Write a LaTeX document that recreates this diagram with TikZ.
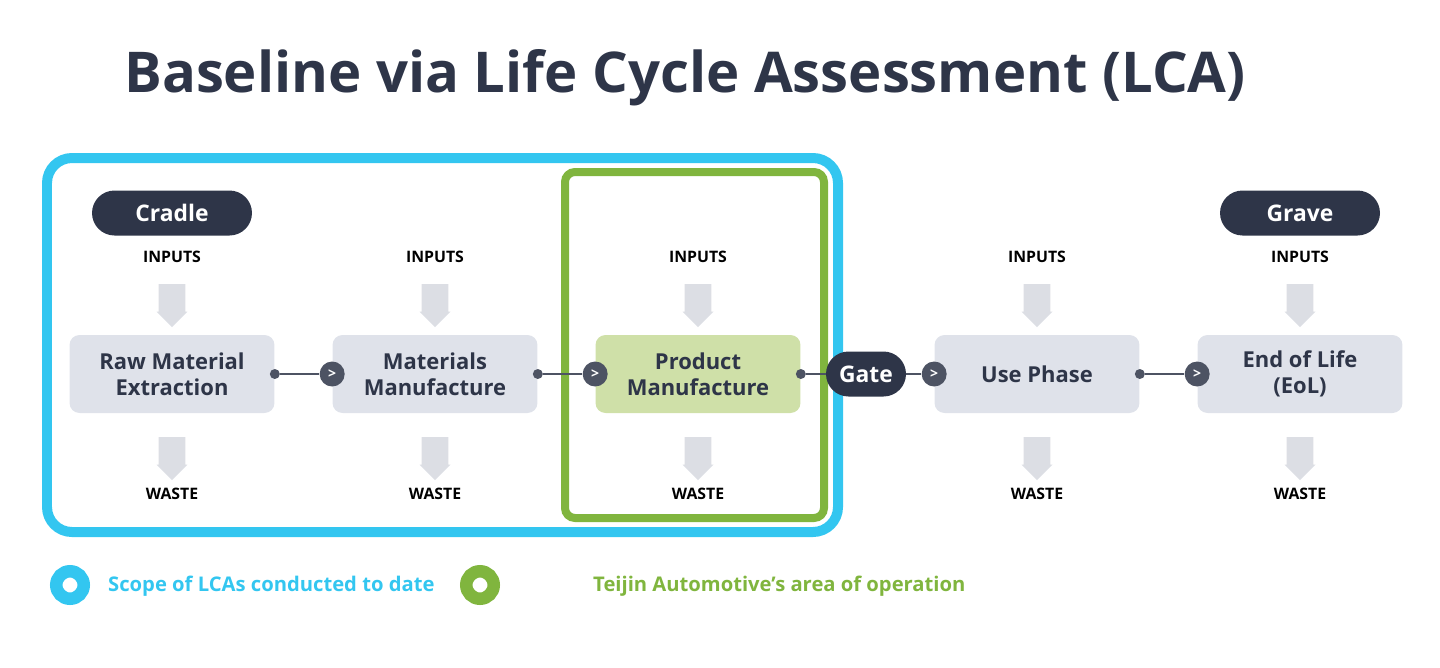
\documentclass[tikz,border=0pt]{standalone}
\usepackage{fontspec}
\setmainfont{Open Sans}
\usetikzlibrary{shapes.arrows,arrows.meta}
\definecolor{scopeblue}{HTML}{33C6F0}
\definecolor{teijingreen}{HTML}{80B53E}
\definecolor{stagegray}{HTML}{DFE2EA}
\definecolor{stagegreen}{HTML}{CFE0A8}
\definecolor{navy}{HTML}{2E3548}
\definecolor{flowgray}{HTML}{DCDEE4}
\tikzset{
  stage/.style={fill=stagegray, rounded corners=0.2cm, minimum width=4.1cm, minimum height=1.56cm,
    align=center, font=\bfseries\fontsize{12.5}{15}\selectfont, text=navy, inner sep=0pt},
  pill/.style={fill=navy, rounded corners=0.45cm, text=white, font=\bfseries\fontsize{13}{15}\selectfont,
    minimum height=0.9cm, inner sep=0pt},
  flow/.style={single arrow, fill=flowgray, rotate=-90, minimum height=0.86cm, minimum width=0.62cm,
    single arrow head extend=0.02cm, single arrow tip angle=90, inner sep=0.12cm},
  tag/.style={font=\bfseries\fontsize{9}{11}\selectfont, text=black},
  dot/.style={circle, fill=navy!85, inner sep=0pt, minimum size=0.2cm},
  go/.style={circle, fill=navy!85, inner sep=0pt, minimum size=0.5cm, text=white,
    font=\bfseries\fontsize{8}{8}\selectfont},
}
\begin{document}
\begin{tikzpicture}[x=0.02cm,y=-0.02cm]
\useasboundingbox (0,0) rectangle (1440,667);

% title
\node[font=\bfseries\fontsize{32}{38}\selectfont, text=navy] (title) at (685,78) {Baseline via Life Cycle Assessment (LCA)};

% scope frames
\draw[scopeblue, line width=0.2cm, rounded corners=0.5cm] (47,158) rectangle (838,532);
\draw[teijingreen, line width=0.16cm, rounded corners=0.2cm] (565,172) rectangle (824,518);

% stages
\node[stage] (raw) at (172,374) {Raw Material\\Extraction};
\node[stage] (mat) at (435,374) {Materials\\Manufacture};
\node[stage, fill=stagegreen] (prod) at (698,374) {Product\\Manufacture};
\node[stage] (use) at (1037,374) {Use Phase};
\node[stage] (eol) at (1300,374) {End of Life\\(EoL)};

\node[pill, minimum width=3.2cm] (cradle) at (172,213) {Cradle};
\node[pill, minimum width=3.2cm] (grave) at (1300,213) {Grave};
\node[pill, minimum width=1.6cm] (gate) at (866,374) {Gate};

% inputs and waste
\foreach \n/\x in {raw/172, mat/435, prod/698, use/1037, eol/1300}{
  \node[tag] (\n-in) at (\x,257) {INPUTS};
  \node[flow] (\n-ia) at (\x,299) {};
  \node[flow] (\n-wa) at (\x,452) {};
  \node[tag] (\n-out) at (\x,494) {WASTE};
}

% links
\foreach \a/\b in {raw/mat, mat/prod, use/eol}{
  \node[dot] (\a-d) at (\a.east) {};
  \node[go] (\b-g) at (\b.west) {\textgreater};
  \draw[navy!85, line width=0.8pt] (\a-d) -- (\b-g);
}
\node[dot] (prod-d) at (prod.east) {};
\node[go] (use-g) at (use.west) {\textgreater};
\draw[navy!85, line width=0.8pt] (prod-d) -- (gate);
\draw[navy!85, line width=0.8pt] (gate) -- (use-g);

% legend
\node[circle, draw=scopeblue, line width=0.25cm, minimum size=0.55cm, inner sep=0pt] (lgb) at (70,585) {};
\node[anchor=west, text=scopeblue, font=\bfseries\fontsize{11.5}{14}\selectfont] (lgbt) at (102,586) {Scope of LCAs conducted to date};
\node[circle, draw=teijingreen, line width=0.25cm, minimum size=0.55cm, inner sep=0pt] (lgg) at (480,585) {};
\node[anchor=west, text=teijingreen, font=\bfseries\fontsize{11.5}{14}\selectfont] (lggt) at (587,586) {Teijin Automotive’s area of operation};
\end{tikzpicture}
\end{document}
